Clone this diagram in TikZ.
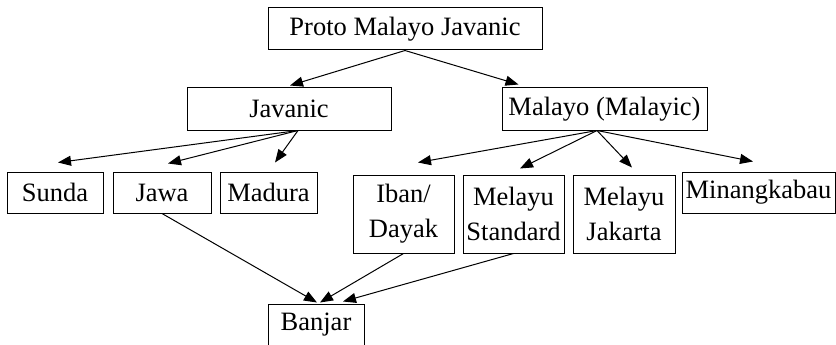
\documentclass[tikz,border=0pt]{standalone}
\usepackage{fontspec}
\setmainfont{Liberation Serif}
\usetikzlibrary{arrows.meta}
\begin{document}
\begin{tikzpicture}[x=1pt, y=-1pt,
  box/.style={draw, line width=1pt, inner sep=0pt, align=center,
    font=\fontsize{26.5}{35}\selectfont},
  arr/.style={-{Triangle[length=13pt,width=10pt]}, line width=1pt}]
  \useasboundingbox (0,0) rectangle (836,345);
  \node[box, minimum width=274pt, minimum height=42pt] (proto) at (405,29) {Proto Malayo Javanic};
  \node[box, minimum width=204pt, minimum height=42pt] (jav) at (289,109) {Javanic};
  \node[box, minimum width=205pt, minimum height=42pt] (mal) at (604.5,109) {Malayo (Malayic)};
  \node[box, minimum width=96pt, minimum height=41pt] (sunda) at (55,192.5) {Sunda};
  \node[box, minimum width=98pt, minimum height=41pt] (jawa) at (162,192.5) {Jawa};
  \node[box, minimum width=97pt, minimum height=41pt] (madura) at (268.5,192.5) {Madura};
  \node[box, minimum width=101pt, minimum height=78pt] (iban) at (403.5,214) {Iban/\\Dayak};
  \node[box, minimum width=101pt, minimum height=78pt] (mstd) at (513.5,214) {Melayu\\Standard};
  \node[box, minimum width=102pt, minimum height=78pt] (mjak) at (624,214) {Melayu\\Jakarta};
  \node[box, minimum width=153pt, minimum height=41pt] (minang) at (758.5,192.5) {Minangkabau};
  \node[box, minimum width=96pt, minimum height=42pt] (banjar) at (316,325) {Banjar};
  \draw[arr] (proto.south) -- ([xshift=1pt,yshift=2pt]jav.north);
  \draw[arr] (proto.south) -- ([xshift=-86pt,yshift=3pt]mal.north);
  \draw[arr] ([xshift=9pt]jav.south) -- ([xshift=3pt,yshift=9pt]sunda.north);
  \draw[arr] ([xshift=9pt]jav.south) -- ([xshift=6pt,yshift=8pt]jawa.north);
  \draw[arr] ([xshift=9pt]jav.south) -- ([xshift=6.5pt,yshift=9pt]madura.north);
  \draw[arr] ([xshift=-7.5pt]mal.south) -- ([xshift=14.5pt,yshift=12pt]iban.north);
  \draw[arr] ([xshift=-7.5pt]mal.south) -- ([xshift=6.5pt,yshift=6pt]mstd.north);
  \draw[arr] ([xshift=-7.5pt]mal.south) -- ([xshift=8pt,yshift=7pt]mjak.north);
  \draw[arr] ([xshift=-7.5pt]mal.south) -- ([xshift=-5.5pt,yshift=10pt]minang.north);
  \draw[arr] (jawa.south) -- ([xshift=1pt,yshift=1pt]banjar.north);
  \draw[arr] (iban.south) -- ([xshift=4pt,yshift=1pt]banjar.north);
  \draw[arr] (mstd.south) -- ([xshift=27pt,yshift=2pt]banjar.north);
\end{tikzpicture}
\end{document}
